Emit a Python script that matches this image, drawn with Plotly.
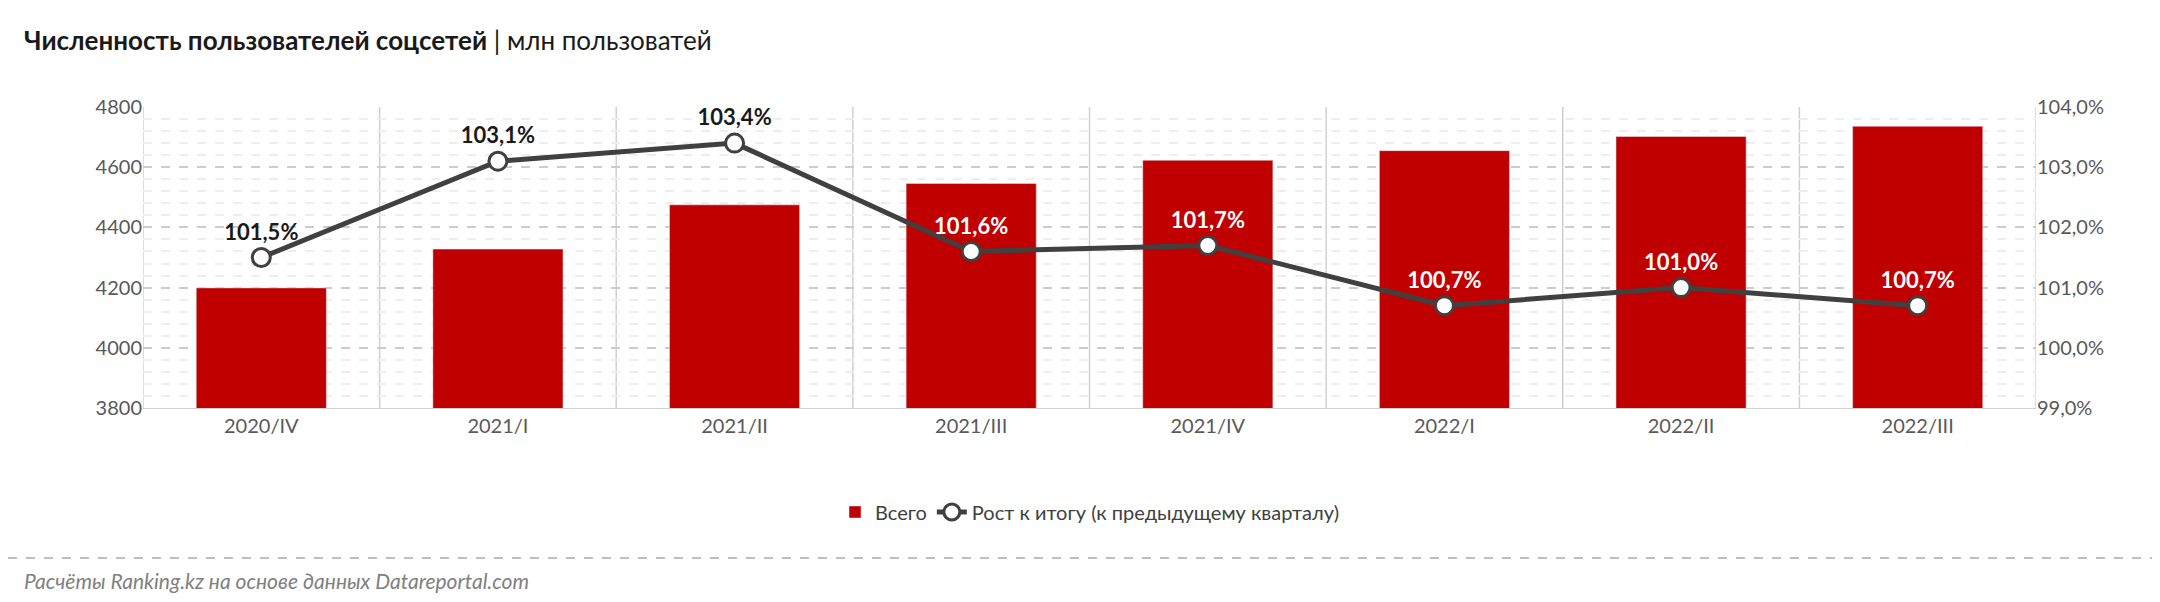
import plotly.graph_objects as go

quarters = ["2020/IV", "2021/I", "2021/II", "2021/III", "2021/IV", "2022/I", "2022/II", "2022/III"]
users = [4199.0, 4328.0, 4475.0, 4546.0, 4623.0, 4655.0, 4702.0, 4736.0]
growth = [101.5, 103.1, 103.4, 101.6, 101.7, 100.7, 101.0, 100.7]

def fmt_num(v):
    return f"{v:,.1f}".replace(",", " ").replace(".", ",")

bar_text = [fmt_num(v) for v in users]
line_text = [f"{g:.1f}%".replace(".", ",") for g in growth]
# labels sitting over red bars are white, the rest black
line_colors = ["#1a1a1a"] * 3 + ["white"] * 5

W, H = 2160, 602
L, R, T, B = 135, 132, 99, 202
pw, ph = W - L - R, H - T - B

def py(p):
    # pixel row -> paper y
    return (T + ph - p) / ph

fig = go.Figure()

fig.add_trace(go.Bar(
    x=quarters, y=users, name="Всего",
    marker=dict(color="#c00000"), width=0.55,
    text=bar_text, textposition="inside", insidetextanchor="start",
    textfont=dict(color="white", size=22, family="Lato", weight="bold"),
    cliponaxis=False,
))

fig.add_trace(go.Scatter(
    x=quarters, y=growth, yaxis="y2", name="Рост к итогу (к предыдущему кварталу)",
    mode="lines+markers+text",
    line=dict(color="#404040", width=5),
    marker=dict(color="white", size=18, line=dict(color="#404040", width=3)),
    text=line_text, textposition="top center",
    textfont=dict(color=line_colors, size=22, family="Lato", weight="bold"),
    cliponaxis=False,
))

# vertical category separators
shapes = []
for i in range(len(quarters) + 1):
    shapes.append(dict(type="line", xref="x", yref="paper", x0=i - 0.5, x1=i - 0.5,
                       y0=0, y1=1, line=dict(color="#d0d0d0", width=1.5), layer="below"))
# dashed separator above the source line
shapes.append(dict(type="line", xref="paper", yref="paper", x0=-L / pw, x1=(W - L) / pw,
                   y0=py(550), y1=py(550),
                   line=dict(color="#bfbfbf", width=2, dash="dash")))

fig.update_layout(
    width=W, height=H,
    margin=dict(l=L, r=R, t=T, b=B),
    plot_bgcolor="white", paper_bgcolor="white",
    font=dict(family="Lato", size=20, color="#595959"),
    separators=", ",
    showlegend=True,
    legend=dict(orientation="h", x=0.5, xanchor="center", y=py(504), yanchor="middle",
                font=dict(size=20, color="#404040"), traceorder="normal"),
    xaxis=dict(range=[-0.5, len(quarters) - 0.5], showgrid=False, ticks="",
               tickfont=dict(size=20, color="#595959"), showline=True, linecolor="#d0d0d0"),
    yaxis=dict(range=[3800, 4800], dtick=200, showgrid=True, gridcolor="#cccccc", griddash="dash",
               gridwidth=1.5, zeroline=False, tickfont=dict(size=20, color="#595959"),
               minor=dict(dtick=40, showgrid=True, gridcolor="#eeeeee", gridwidth=1.5)),
    yaxis2=dict(range=[99, 104], dtick=1, overlaying="y", side="right", showgrid=False,
                zeroline=False, ticksuffix="%", tickformat=".1f",
                tickfont=dict(size=20, color="#595959")),
    shapes=shapes,
    annotations=[
        dict(xref="paper", yref="paper", x=-(L - 14) / pw, y=py(32), xanchor="left",
             yanchor="middle", showarrow=False,
             text="<b>Численность пользователей соцсетей</b> | млн пользоватей",
             font=dict(size=26, color="#1a1a1a")),
        dict(xref="paper", yref="paper", x=-(L - 14) / pw, y=py(572), xanchor="left",
             yanchor="middle", showarrow=False,
             text="<i>Расчёты Ranking.kz на основе данных Datareportal.com</i>",
             font=dict(size=21, color="#808080")),
    ],
)

fig.write_html("out.html")
